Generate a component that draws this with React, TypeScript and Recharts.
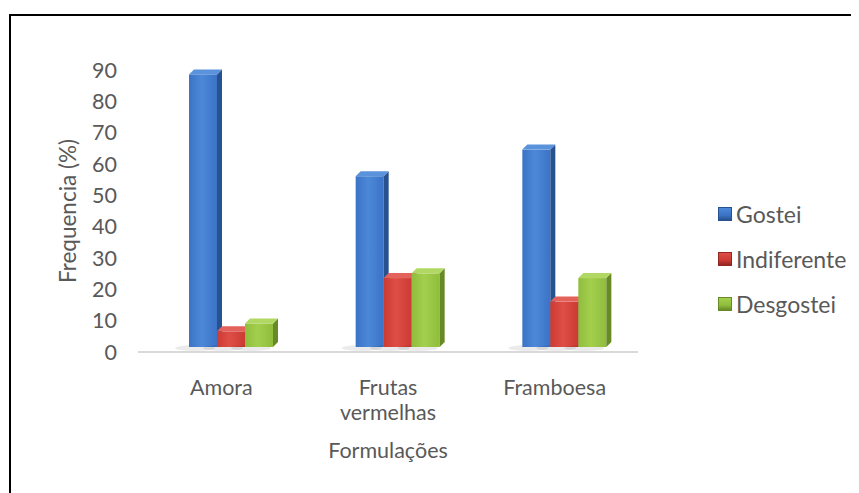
import { Bar, BarChart, XAxis, YAxis } from "recharts";

const categories = ["Amora", "Frutas vermelhas", "Framboesa"];
const gostei = [87, 54.5, 63];
const indiferente = [5, 22, 14.5];
const desgostei = [7.5, 23.5, 22];
const yTicks = [0, 10, 20, 30, 40, 50, 60, 70, 80, 90];

const series = [
  { key: "gostei", name: "Gostei", front: "#3b73c6", light: "#4d88d8", side: "#28528f", top: "#5a92dc" },
  { key: "indiferente", name: "Indiferente", front: "#cc3a34", light: "#de4d46", side: "#932622", top: "#e3625b" },
  { key: "desgostei", name: "Desgostei", front: "#8fbd3c", light: "#a3cf4d", side: "#678a27", top: "#b0d862" },
];

const chartData = categories.map((name, i) => ({
  name,
  gostei: gostei[i],
  indiferente: indiferente[i],
  desgostei: desgostei[i],
}));

const FONT = "Lato, 'Open Sans', sans-serif";
const TEXT = "#595959";
const DX = 10;
const DY = -5;
const D = 5;

const make3D = (s: (typeof series)[number]) => (props: any) => {
  const { x, y, width, height } = props;
  if (height == null || width == null) return null;
  const fx = x + DX;
  const fy = y + DY;
  const w = width;
  const h = height;
  return (
    <g>
      <ellipse cx={fx + w / 2 - 8} cy={fy + h + 1} rx={w / 2 + 6} ry={3} fill="#000" opacity={0.08} />
      <rect x={fx} y={fy} width={w} height={h} fill={`url(#grad-${s.key})`} />
      <polygon
        points={`${fx + w},${fy} ${fx + w + D},${fy - D} ${fx + w + D},${fy + h - D} ${fx + w},${fy + h}`}
        fill={s.side}
      />
      <polygon
        points={`${fx},${fy} ${fx + D},${fy - D} ${fx + w + D},${fy - D} ${fx + w},${fy}`}
        fill={s.top}
      />
    </g>
  );
};

const CategoryTick = (props: any) => {
  const { x, y, payload } = props;
  const words = String(payload.value).split(" ");
  return (
    <text x={x} y={y} textAnchor="middle" fill={TEXT} fontSize={21.5} fontFamily={FONT}>
      {words.map((w, i) => (
        <tspan key={i} x={x} dy={i === 0 ? 35 : 25}>
          {w}
        </tspan>
      ))}
    </text>
  );
};

const YTitle = (props: any) => {
  const vb = props.viewBox;
  const cx = vb.x + 39;
  const cy = vb.y + vb.height / 2;
  return (
    <text
      x={cx}
      y={cy}
      transform={`rotate(-90, ${cx}, ${cy})`}
      textAnchor="middle"
      dominantBaseline="central"
      fill={TEXT}
      fontSize={22.5}
      fontFamily={FONT}
    >
      Frequencia (%)
    </text>
  );
};

export default function App() {
  return (
    <div style={{ position: "relative", width: 851, height: 485, background: "#fff" }}>
      <div
        style={{
          position: "absolute",
          left: 1,
          top: 6,
          right: -10,
          bottom: -10,
          borderTop: "2px solid #000",
          borderLeft: "2px solid #000",
        }}
      />
      <BarChart
        width={851}
        height={485}
        data={chartData}
        margin={{ top: 62, right: 221, bottom: 31, left: 20 }}
        barCategoryGap="25%"
        barGap={0}
        style={{ position: "absolute", left: 0, top: 0 }}
      >
        <defs>
          {series.map((s) => (
            <linearGradient key={s.key} id={`grad-${s.key}`} x1="0" y1="0" x2="1" y2="0">
              <stop offset="0%" stopColor={s.front} />
              <stop offset="45%" stopColor={s.light} />
              <stop offset="100%" stopColor={s.front} />
            </linearGradient>
          ))}
        </defs>
        <XAxis
          dataKey="name"
          height={110}
          axisLine={{ stroke: "#d9d9d9", strokeWidth: 2 }}
          tickLine={false}
          tick={<CategoryTick />}
          interval={0}
          label={{
            value: "Formulações",
            position: "insideBottom",
            offset: 4,
            fill: TEXT,
            fontSize: 21.5,
            fontFamily: FONT,
          }}
        />
        <YAxis
          width={110}
          domain={[0, 90]}
          ticks={yTicks}
          axisLine={false}
          tickLine={false}
          tickMargin={15}
          tick={{ fill: TEXT, fontSize: 21.5, fontFamily: FONT }}
          label={<YTitle />}
        />
        {series.map((s) => (
          <Bar
            key={s.key}
            dataKey={s.key}
            name={s.name}
            fill={s.front}
            barSize={28}
            shape={make3D(s)}
            isAnimationActive={false}
          />
        ))}
      </BarChart>
      <div style={{ position: "absolute", left: 710, top: 183, fontFamily: FONT, fontSize: 23, color: TEXT }}>
        {series.map((s) => (
          <div key={s.key} style={{ display: "flex", alignItems: "center", height: 45 }}>
            <span
              style={{
                display: "inline-block",
                width: 14,
                height: 14,
                marginRight: 4,
                background: `linear-gradient(180deg, ${s.light}, ${s.front} 60%, ${s.side})`,
                border: `1px solid ${s.side}`,
                boxSizing: "border-box",
              }}
            />
            <span>{s.name}</span>
          </div>
        ))}
      </div>
    </div>
  );
}
